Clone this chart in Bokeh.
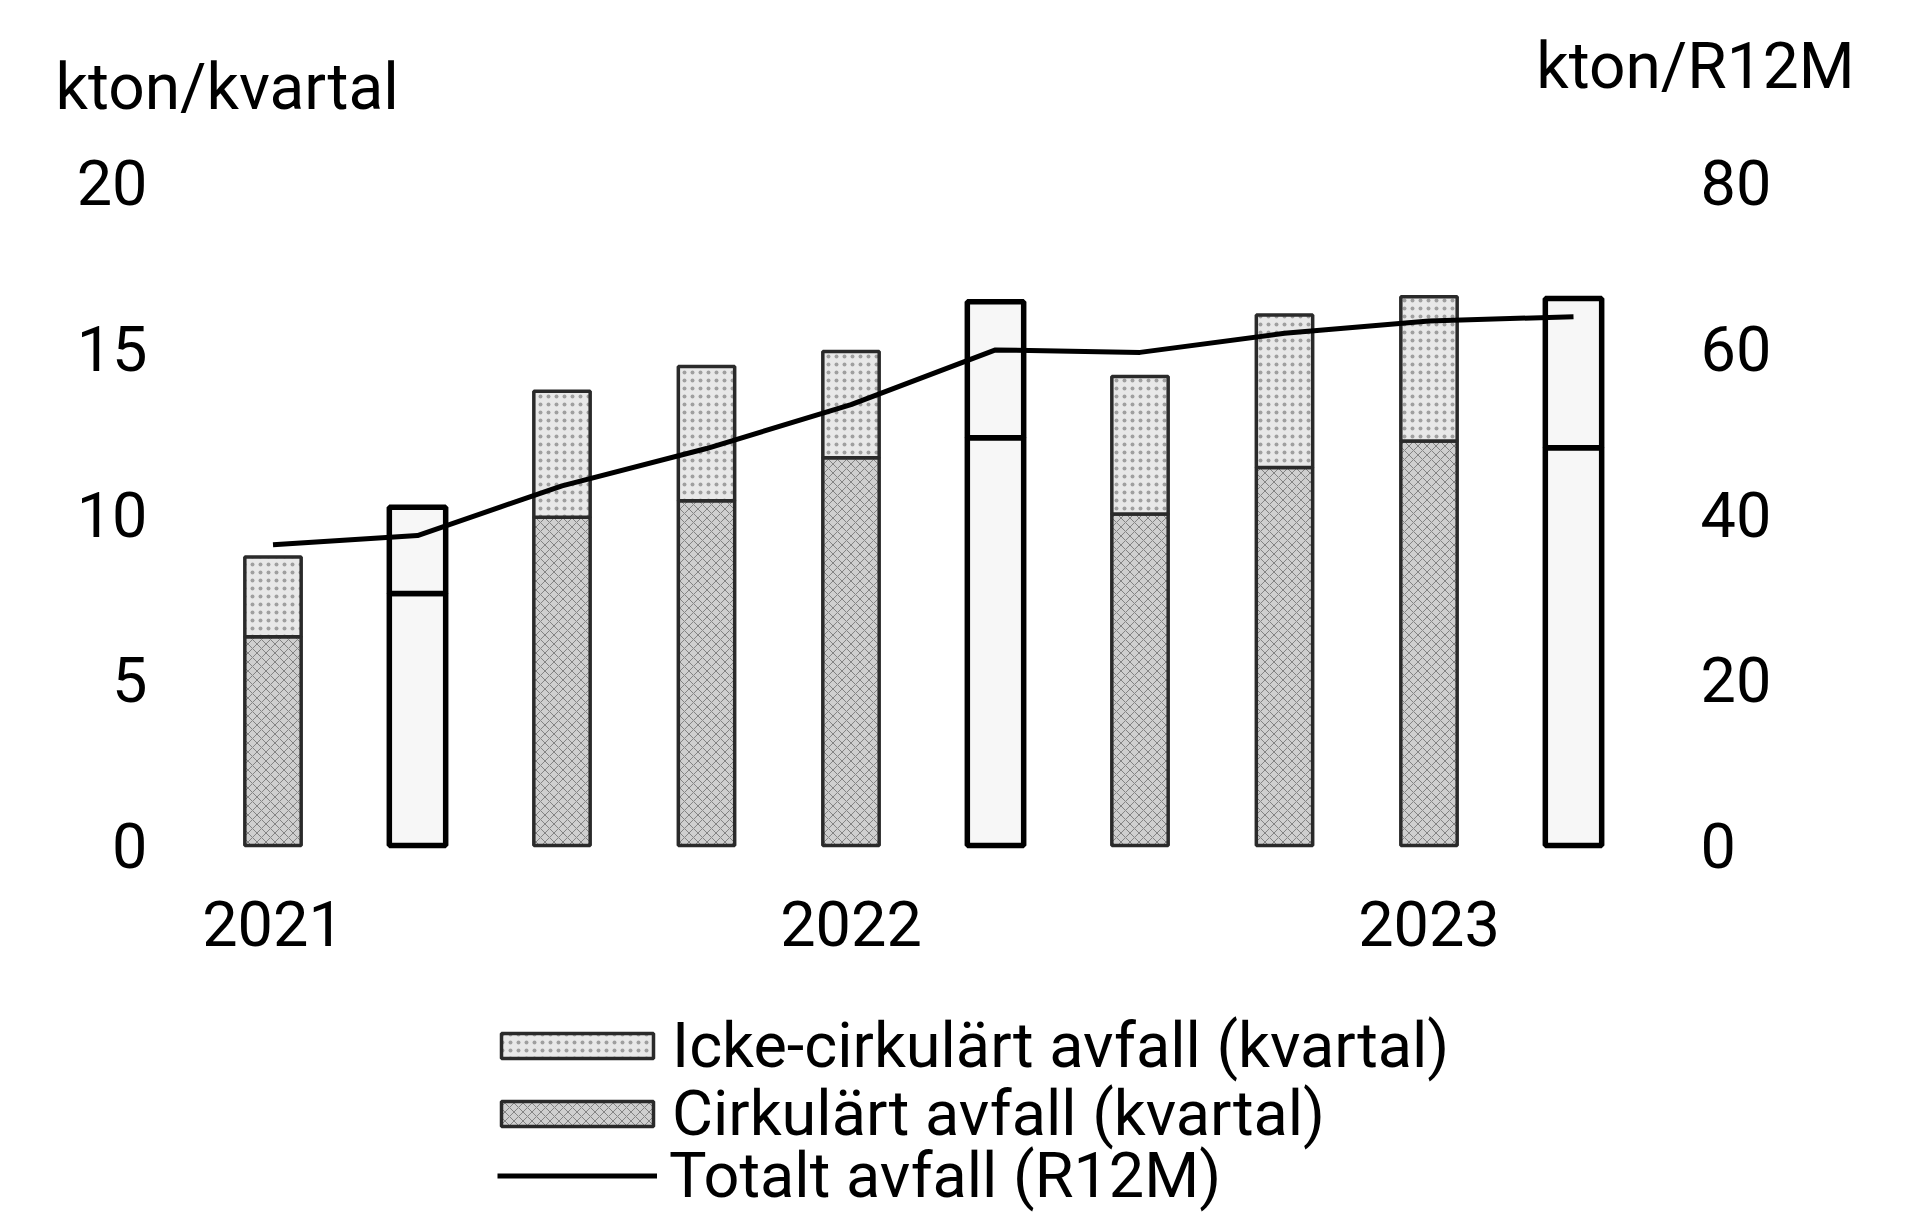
from bokeh.plotting import figure
from bokeh.models import (ColumnDataSource, LinearAxis, Range1d, FixedTicker,
                          Legend, LegendItem, Label)
from bokeh.embed import file_html
from bokeh.resources import INLINE

# ---- data ----
quarters = ["2021 Q1", "2021 Q2", "2021 Q3", "2021 Q4",
            "2022 Q1", "2022 Q2", "2022 Q3", "2022 Q4",
            "2023 Q1", "2023 Q2"]
circular = [6.3, 7.6, 9.9, 10.4, 11.7, 12.3, 10.0, 11.4, 12.2, 12.0]       # kton/kvartal
total_quarter = [8.7, 10.2, 13.7, 14.45, 14.9, 16.4, 14.15, 16.0, 16.55, 16.5]
total_r12m = [36.3, 37.4, 43.4, 47.9, 53.2, 59.8, 59.5, 61.8, 63.3, 63.8]   # kton/R12M
unit_labels = ["kton/kvartal", "kton/R12M"]
series_labels = ["Icke-cirkulärt avfall (kvartal)", "Cirkulärt avfall (kvartal)",
                 "Totalt avfall (R12M)"]

left_ticks = [0, 5, 10, 15, 20]
right_ticks = [0, 20, 40, 60, 80]

FONT = "Roboto"
FS = "63px"
W, H = 1909, 1213

# ---- layout (pixels on the canvas) ----
PX_X = 144.5      # pixels per quarter
X0 = 272.5        # pixel of first quarter
PX_Y = 33.15      # pixels per kton (left scale)
Y0 = 845.0        # pixel of zero line
RATIO = right_ticks[-1] / left_ticks[-1]

def dx(px):
    return (px - X0) / PX_X

def dy(py):
    return (Y0 - py) / PX_Y

x = list(range(len(quarters)))
highlight = [q.endswith("Q2") for q in quarters]

src = ColumnDataSource(dict(
    x=x,
    c0=[0] * len(x),
    c1=circular,
    n1=total_quarter,
    r12=total_r12m,
    lc=["#000000" if h else "#2a2a2a" for h in highlight],
    lw=[5.5 if h else 3.5 for h in highlight],
    fc_c=["#f7f7f7" if h else "#cfcfcf" for h in highlight],
    fc_n=["#f7f7f7" if h else "#e8e8e8" for h in highlight],
    hp_c=[" " if h else "diagonal_cross" for h in highlight],
    hp_n=[" " if h else "dot" for h in highlight],
))

p = figure(width=W, height=H, output_backend="svg", toolbar_location=None,
           x_range=Range1d(dx(0), dx(W)), y_range=Range1d(dy(H), dy(0)),
           min_border=0)
p.extra_y_ranges = {"r12m": Range1d(dy(H) * RATIO, dy(0) * RATIO)}
p.grid.visible = False
p.outline_line_color = None
p.background_fill_color = "white"
p.border_fill_color = "white"

bw = 0.39
r_c = p.vbar(x="x", bottom="c0", top="c1", width=bw, source=src,
             fill_color="fc_c", line_color="lc", line_width="lw",
             hatch_pattern="hp_c", hatch_color="#444444", hatch_alpha=0.55,
             hatch_scale=9, hatch_weight=1)
r_n = p.vbar(x="x", bottom="c1", top="n1", width=bw, source=src,
             fill_color="fc_n", line_color="lc", line_width="lw",
             hatch_pattern="hp_n", hatch_color="#555555", hatch_alpha=0.5,
             hatch_scale=8, hatch_weight=1.5)
r_l = p.line(x="x", y="r12", source=src, y_range_name="r12m",
             line_color="black", line_width=5)

xa = p.xaxis[0]
year_idx = [i for i, q in enumerate(quarters) if q.endswith("Q1")]
xa.ticker = FixedTicker(ticks=year_idx)
xa.major_label_overrides = {i: quarters[i][:4] for i in year_idx}
xa.fixed_location = 0
ya = p.yaxis[0]
ya.ticker = FixedTicker(ticks=left_ticks)
ya.fixed_location = dx(160)
ra = LinearAxis(y_range_name="r12m", ticker=FixedTicker(ticks=right_ticks),
                fixed_location=dx(1700))
p.add_layout(ra, "right")

for ax in (xa, ya, ra):
    ax.axis_line_color = None
    ax.major_tick_line_color = None
    ax.minor_tick_line_color = None
    ax.major_tick_out = 0
    ax.minor_tick_out = 0
    ax.major_label_text_font = FONT
    ax.major_label_text_font_size = FS
    ax.major_label_text_color = "black"
xa.major_label_standoff = 55
ya.major_label_standoff = 13
ra.major_label_standoff = 0

# unit labels
p.add_layout(Label(x=dx(55), y=dy(87), text=unit_labels[0], text_font=FONT,
                   text_font_size="64px", text_align="left",
                   text_baseline="alphabetic", text_color="black"))
p.add_layout(Label(x=dx(1854), y=dy(66), text=unit_labels[1], text_font=FONT,
                   text_font_size="64px", text_align="right",
                   text_baseline="alphabetic", text_color="black"))

# legend: one row each, so the row pitch matches the original
legend_rows = [
    (series_labels[0], r_n, (482, 131), 190, 31, 0),
    (series_labels[1], r_c, (482, 63), 190, 31, 0),
    (series_labels[2], r_l, (497, 1), 160, 25, 12),
]
for lab, rend, loc, gw, gh, so in legend_rows:
    item = LegendItem(label=lab, renderers=[rend], index=0)
    lg = Legend(items=[item], location=loc, orientation="vertical",
                label_text_font=FONT, label_text_font_size=FS,
                label_text_color="black", glyph_width=gw, glyph_height=gh,
                label_standoff=so, padding=0, margin=0, spacing=0,
                border_line_alpha=0, background_fill_alpha=0)
    p.add_layout(lg, "center")

open("out.html", "w").write(file_html(p, INLINE))
